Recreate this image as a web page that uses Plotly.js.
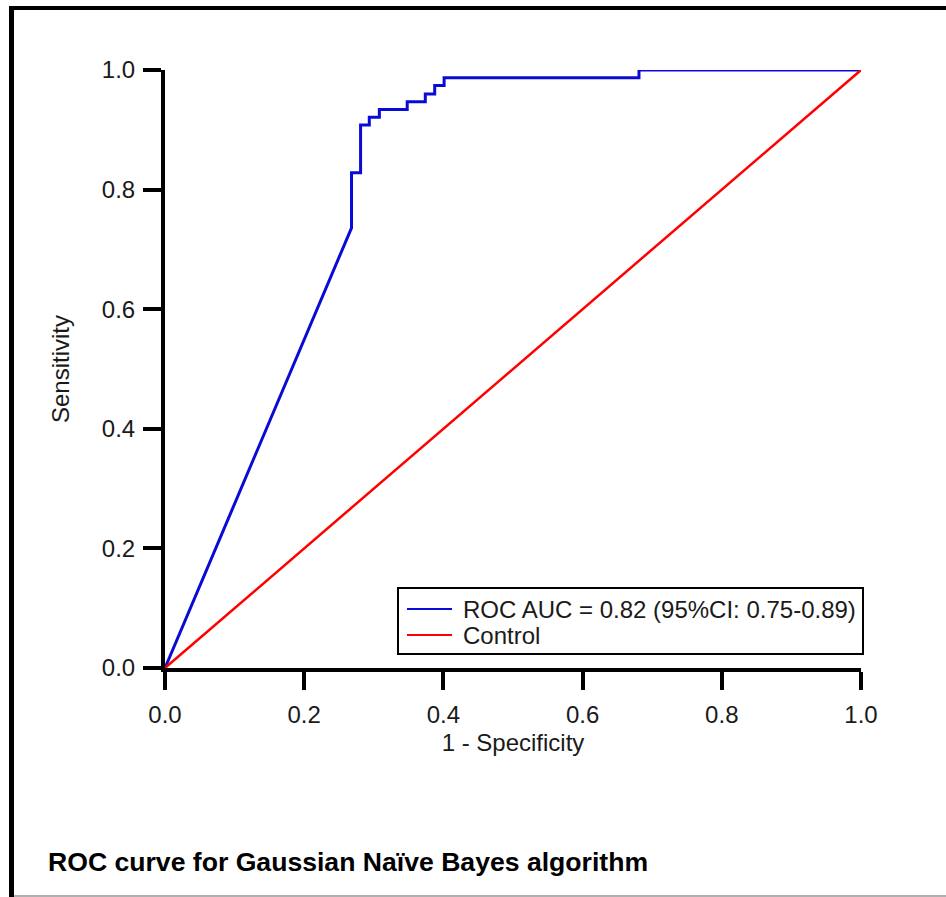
<!DOCTYPE html>
<html>
<head>
<meta charset="utf-8">
<script src="https://cdn.plot.ly/plotly-3.0.1.min.js"></script>
<style>
  html, body { margin: 0; padding: 0; background: #fff; }
  #wrap { position: relative; width: 946px; height: 897px; overflow: hidden; }
  #plot { position: absolute; left: 0; top: 0; width: 946px; height: 897px; }
  .bl { position: absolute; left: 9px; top: 6px; width: 5px; height: 891px; background: #000; z-index: 5; }
  .bt { position: absolute; left: 9px; top: 6px; width: 937px; height: 4px; background: #000; z-index: 5; }
  .bb { position: absolute; left: 9px; top: 895px; width: 937px; height: 2px; background: #b0b0b0; z-index: 4; }
</style>
</head>
<body>
<div id="wrap">
  <div id="plot"></div>
  <div class="bl"></div><div class="bt"></div><div class="bb"></div>
</div>
<script>
// ROC curve (1 - specificity vs sensitivity)
const fpr = [0, 0.268, 0.268, 0.281, 0.281, 0.2935, 0.2935, 0.308, 0.308, 0.348, 0.348, 0.374, 0.374, 0.3875, 0.3875, 0.401, 0.401, 0.681, 0.681, 1.0];
const tpr = [0, 0.736, 0.828, 0.828, 0.908, 0.908, 0.921, 0.921, 0.934, 0.934, 0.947, 0.947, 0.960, 0.960, 0.974, 0.974, 0.987, 0.987, 1.0, 1.0];
// Control (chance) line
const ctrlX = [0, 1];
const ctrlY = [0, 1];
const tickVals = [0, 0.2, 0.4, 0.6, 0.8, 1.0];
const tickText = ["0.0", "0.2", "0.4", "0.6", "0.8", "1.0"];
const seriesNames = ["ROC AUC = 0.82 (95%CI: 0.75-0.89)", "Control"];
const seriesColors = ["#0a0ad6", "#ff0000"];
const chartTitle = "<b>ROC curve for Gaussian Naïve Bayes algorithm</b>";

const FONT = "Liberation Sans, Arial, Helvetica, sans-serif";
const TXT = "#1a1a1a";

const traces = [
  { x: fpr, y: tpr, mode: "lines", name: seriesNames[0], line: { color: seriesColors[0], width: 3 } },
  { x: ctrlX, y: ctrlY, mode: "lines", name: seriesNames[1], line: { color: seriesColors[1], width: 2.5 } }
];

const axisCommon = {
  showgrid: false, zeroline: false, showline: true, linecolor: "#000", linewidth: 4,
  ticks: "outside", ticklen: 18, tickwidth: 4, tickcolor: "#000",
  tickvals: tickVals, ticktext: tickText,
  tickfont: { family: FONT, size: 24, color: TXT },
  fixedrange: true
};

// plot area in pixels: left 165, right 861, top 70, bottom 668
const L = 165, W = 696, T = 70, H = 598;
const px = v => (v - L) / W;
const py = v => (T + H - v) / H;

// Custom legend (box + key lines + labels) to match the compact original
const legBox = { x0: 398, x1: 863, y0: 588, y1: 654 };
const legRows = [609, 635];
const shapes = [
  { type: "rect", xref: "paper", yref: "paper", x0: px(legBox.x0), x1: px(legBox.x1), y0: py(legBox.y1), y1: py(legBox.y0),
    line: { color: "#000", width: 2 }, fillcolor: "#fff", layer: "above" }
];
const annotations = [];
seriesNames.forEach((n, i) => {
  shapes.push({ type: "line", xref: "paper", yref: "paper", x0: px(407), x1: px(452), y0: py(legRows[i]), y1: py(legRows[i]),
    line: { color: seriesColors[i], width: 2 }, layer: "above" });
  annotations.push({ xref: "paper", yref: "paper", x: px(461), y: py(legRows[i]), xanchor: "left", yanchor: "middle",
    text: n, showarrow: false, font: { family: FONT, size: 24, color: TXT } });
});

const layout = {
  width: 946, height: 897,
  margin: { l: L, r: 946 - L - W, t: T, b: 897 - T - H },
  paper_bgcolor: "#fff", plot_bgcolor: "#fff",
  font: { family: FONT, color: TXT },
  title: {
    text: chartTitle, xref: "container", yref: "container",
    x: 48 / 946, xanchor: "left", y: 1 - 862 / 897, yanchor: "middle",
    font: { family: FONT, size: 26.6, color: "#000" }
  },
  xaxis: Object.assign({}, axisCommon, {
    range: [0, 1], ticklabelstandoff: 4,
    title: { text: "1 - Specificity", font: { family: FONT, size: 24, color: TXT }, standoff: 8 }
  }),
  yaxis: Object.assign({}, axisCommon, {
    range: [0, 1], ticklabelstandoff: 3,
    title: { text: "Sensitivity", font: { family: FONT, size: 24, color: TXT }, standoff: 26 }
  }),
  showlegend: false,
  shapes: shapes,
  annotations: annotations
};

Plotly.newPlot("plot", traces, layout, { displayModeBar: false, staticPlot: true });
</script>
</body>
</html>
